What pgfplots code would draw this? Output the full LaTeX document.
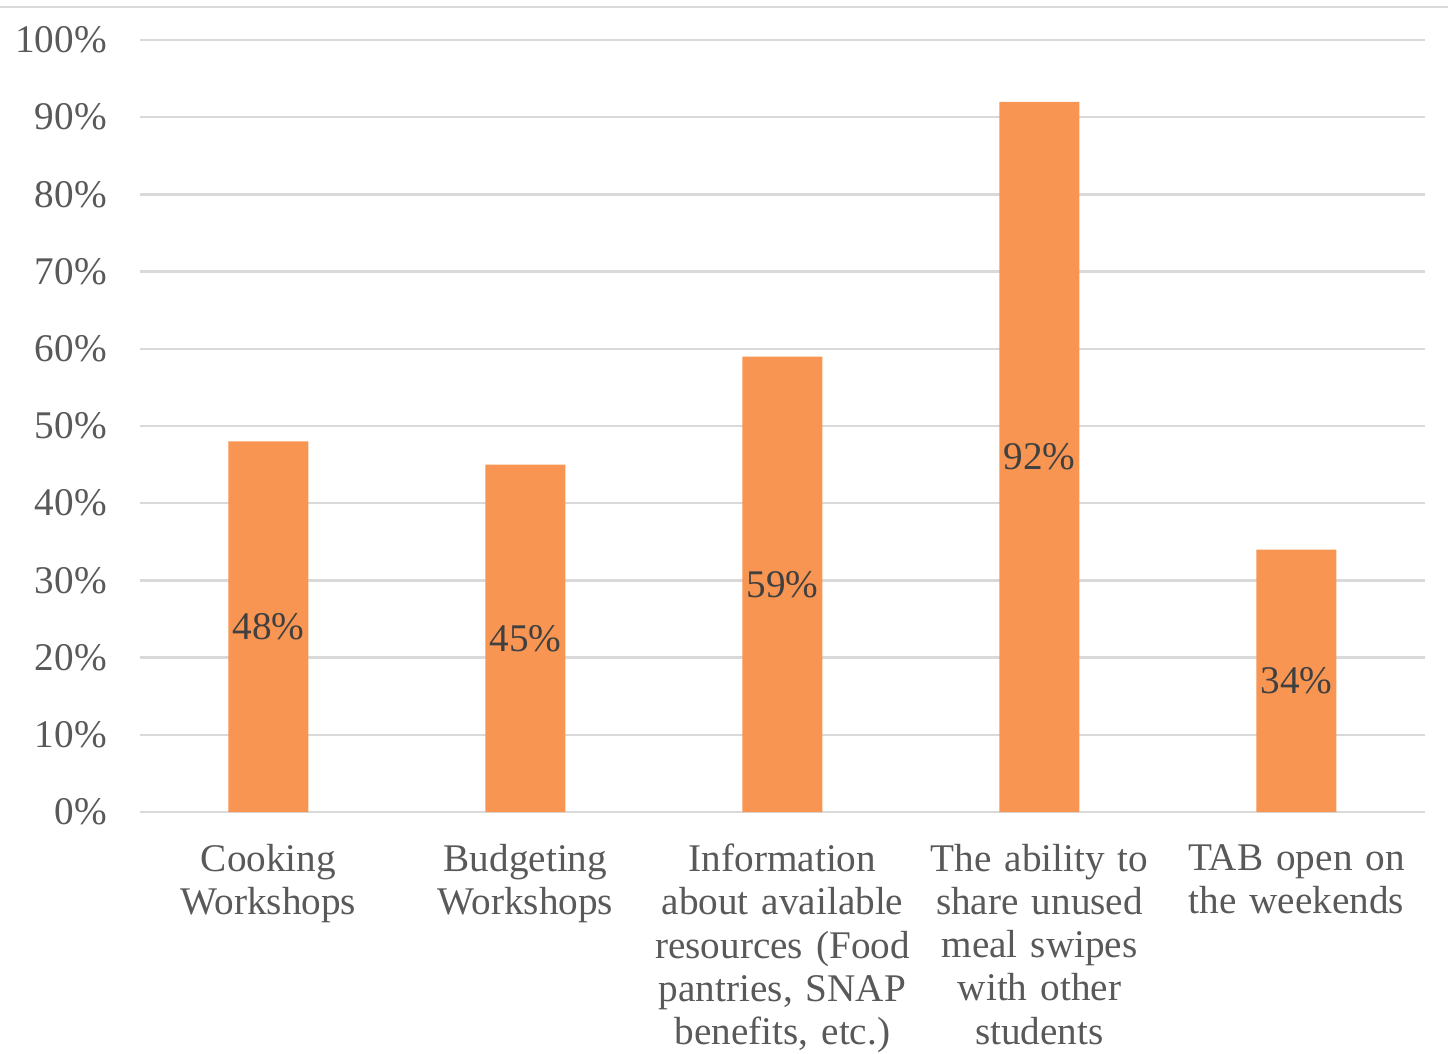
\documentclass[border=0pt]{standalone}
\usepackage{fontspec}
\setmainfont{Liberation Serif}
\usepackage{pgfplots}
\pgfplotsset{compat=1.18}
\definecolor{barorange}{HTML}{F99552}
\definecolor{gridgray}{HTML}{D9D9D9}
\definecolor{ticktext}{HTML}{595959}
\definecolor{labeltext}{HTML}{404040}
\begin{document}
\begin{tikzpicture}
\begin{axis}[
  at={(0,0)}, anchor=south west,
  scale only axis,
  width=321.25pt, height=193pt,
  xmin=-0.5, xmax=4.5,
  ymin=0, ymax=100,
  axis line style={draw=none},
  axis x line*=bottom,
  axis y line*=left,
  ytick={0,10,...,100},
  yticklabels={0\%,10\%,20\%,30\%,40\%,50\%,60\%,70\%,80\%,90\%,100\%},
  ymajorgrids,
  major grid style={gridgray, line width=0.6pt},
  major tick length=0pt,
  xtick={0,1,2,3,4},
  xticklabels={
    {Cooking\\Workshops},
    {Budgeting\\Workshops},
    {Information\\about available\\resources (Food\\pantries, SNAP\\benefits, etc.)},
    {The ability to\\share unused\\meal swipes\\with other\\students},
    {TAB open on\\the weekends}},
  xticklabel style={align=center, text width=68pt, font=\fontsize{9.8}{10.8}\selectfont, text=ticktext, yshift=-4.5pt},
  yticklabel style={font=\fontsize{9.8}{10.8}\selectfont, text=ticktext, xshift=-4.8pt},
  /pgf/number format/assume math mode=true,
  clip=false,
]
\draw[gridgray, line width=0.6pt] (axis cs:-0.5,0) -- (axis cs:4.5,0);
\addplot[ybar, bar width=20pt, fill=barorange, draw=none,
  nodes near coords={\pgfmathprintnumber{\pgfplotspointmeta}\%},
  visualization depends on={y \as \rawy},
  every node near coord/.append style={anchor=center, font=\fontsize{9.8}{10.8}\selectfont, text=labeltext,
     shift={(axis direction cs:0,-\rawy/2)}},
] coordinates {(0,48) (1,45) (2,59) (3,92) (4,34)};
\end{axis}
\pgfresetboundingbox
\useasboundingbox (-35pt,-60.25pt) rectangle (327pt,203pt);
\draw[gridgray, line width=0.6pt] (-35pt,201.25pt) -- (327pt,201.25pt);
\end{tikzpicture}
\end{document}
